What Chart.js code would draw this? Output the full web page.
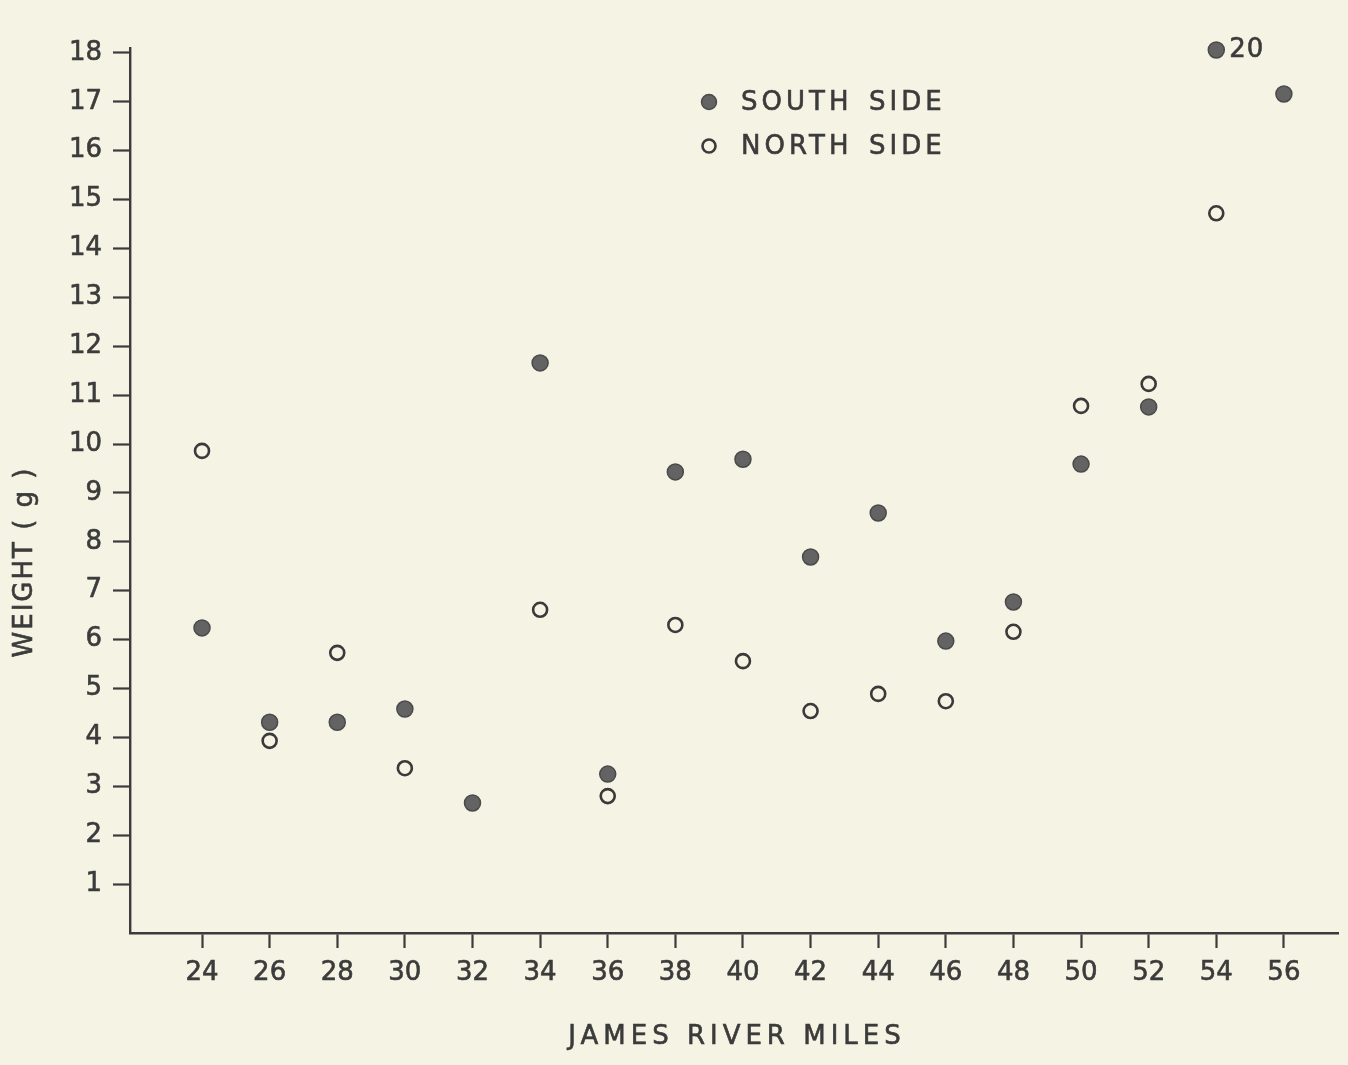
<!DOCTYPE html>
<html>
<head>
<meta charset="utf-8">
<script src="https://cdn.jsdelivr.net/npm/chart.js@4.4.1/dist/chart.umd.min.js"></script>
<style>
  html, body { margin: 0; padding: 0; background: #f5f3e3; }
  #wrap { width: 1348px; height: 1065px; }
</style>
</head>
<body>
<div id="wrap"><canvas id="c" width="1348" height="1065"></canvas></div>
<script>
// ---- data ----
const riverMiles = [24, 26, 28, 30, 32, 34, 36, 38, 40, 42, 44, 46, 48, 50, 52, 54, 56];
const southSide  = [6.24, 4.31, 4.31, 4.58, 2.66, 11.66, 3.25, 9.43, 9.69, 7.69, 8.59, 5.97, 6.77, 9.59, 10.76, 18.06, 17.16];
const northSide  = [9.86, 3.93, 5.73, 3.37, null, 6.61, 2.80, 6.30, 5.56, 4.54, 4.89, 4.74, 6.16, 10.78, 11.23, 14.72, null];
const xTickLabels = [24, 26, 28, 30, 32, 34, 36, 38, 40, 42, 44, 46, 48, 50, 52, 54, 56];
const yTickLabels = [1, 2, 3, 4, 5, 6, 7, 8, 9, 10, 11, 12, 13, 14, 15, 16, 17, 18];
const seriesNames = ['SOUTH SIDE', 'NORTH SIDE'];
const xTitle = 'JAMES RIVER MILES';
const yTitle = 'WEIGHT ( g )';
const pointNotes = [{ series: 0, x: 54, text: '20' }];

const INK = '#3b3b3b';
const FONT = '"DejaVu Sans", "Liberation Sans", sans-serif';
const STROKE = 0.6;

function toXY(xs, ys) {
  const out = [];
  xs.forEach((x, i) => { if (ys[i] !== null) out.push({ x: x, y: ys[i] }); });
  return out;
}

const bgPlugin = {
  id: 'bg',
  beforeDraw(chart) {
    const c = chart.ctx;
    c.save();
    c.fillStyle = '#f5f3e3';
    c.fillRect(0, 0, chart.width, chart.height);
    c.restore();
  }
};

function heavyText(c, t, x, y) {
  c.fillText(t, x, y);
  c.strokeText(t, x, y);
}

const extrasPlugin = {
  id: 'extras',
  afterDraw(chart) {
    const c = chart.ctx;
    const xs = chart.scales.x, ys = chart.scales.y;
    c.save();
    c.fillStyle = INK;
    c.font = '26px ' + FONT;
    c.textBaseline = 'middle';
    // legend
    const items = [
      { ds: chart.data.datasets[0], y: 102 },
      { ds: chart.data.datasets[1], y: 146 }
    ];
    items.forEach(it => {
      c.beginPath();
      c.arc(709, it.y, it.ds.pointRadius - 0.5, 0, Math.PI * 2);
      c.fillStyle = it.ds.pointBackgroundColor;
      c.fill();
      c.lineWidth = it.ds.pointBorderWidth;
      c.strokeStyle = it.ds.pointBorderColor;
      c.stroke();
      c.fillStyle = INK;
      c.strokeStyle = INK;
      c.lineWidth = STROKE;
      c.letterSpacing = '4px';
      c.textAlign = 'left';
      const parts = it.ds.label.split(' ');
      heavyText(c, parts[0], 741, it.y + 1);
      heavyText(c, parts[1], 869, it.y + 1);
    });
    c.strokeStyle = INK;
    c.lineWidth = STROKE;
    // point notes
    c.letterSpacing = '1px';
    pointNotes.forEach(n => {
      const idx = riverMiles.indexOf(n.x);
      const val = [southSide, northSide][n.series][idx];
      c.textAlign = 'left';
      heavyText(c, n.text, xs.getPixelForValue(n.x) + 13, ys.getPixelForValue(val));
    });
    // x title
    c.letterSpacing = '5px';
    c.textAlign = 'center';
    heavyText(c, xTitle, (chart.chartArea.left + chart.chartArea.right) / 2 + 3, 1037);
    // y title
    c.translate(25, 562);
    c.rotate(-Math.PI / 2);
    c.letterSpacing = '2px';
    c.textAlign = 'center';
    heavyText(c, yTitle, 0, 0);
    c.restore();
  }
};

new Chart(document.getElementById('c'), {
  type: 'scatter',
  data: {
    datasets: [
      {
        label: seriesNames[0],
        data: toXY(riverMiles, southSide),
        pointRadius: 8,
        pointBackgroundColor: '#636363',
        pointBorderColor: '#4a4a4a',
        pointBorderWidth: 1.5,
        showLine: false,
        clip: false
      },
      {
        label: seriesNames[1],
        data: toXY(riverMiles, northSide),
        pointRadius: 7,
        pointBackgroundColor: 'rgba(0,0,0,0)',
        pointBorderColor: '#3a3a3a',
        pointBorderWidth: 2.6,
        showLine: false,
        clip: false
      }
    ]
  },
  options: {
    responsive: false,
    animation: false,
    layout: { padding: { top: 48, right: 10, left: 0, bottom: 0 } },
    plugins: {
      legend: { display: false },
      tooltip: { enabled: false }
    },
    scales: {
      x: {
        type: 'linear',
        min: 21.87,
        max: 57.6,
        afterBuildTicks: s => { s.ticks = xTickLabels.map(v => ({ value: v })); },
        afterFit: s => { s.height = 132; },
        border: { display: true, color: INK, width: 2.4 },
        grid: { drawOnChartArea: false, drawTicks: true, tickLength: 15, tickColor: INK, tickWidth: 2.2 },
        ticks: {
          color: INK,
          textStrokeColor: INK,
          textStrokeWidth: STROKE,
          font: { family: FONT, size: 26 },
          padding: 10,
          maxRotation: 0,
          autoSkip: false,
          callback: v => String(v)
        },
        title: { display: false }
      },
      y: {
        type: 'linear',
        min: 0,
        max: 18.1,
        afterBuildTicks: s => { s.ticks = yTickLabels.map(v => ({ value: v })); },
        afterFit: s => { s.width = 130; },
        border: { display: true, color: INK, width: 2.4 },
        grid: { drawOnChartArea: false, drawTicks: true, tickLength: 17, tickColor: INK, tickWidth: 2.2 },
        ticks: {
          color: INK,
          textStrokeColor: INK,
          textStrokeWidth: STROKE,
          font: { family: FONT, size: 26 },
          padding: 11,
          autoSkip: false,
          callback: v => String(v)
        },
        title: { display: false }
      }
    }
  },
  plugins: [bgPlugin, extrasPlugin]
});
</script>
</body>
</html>
